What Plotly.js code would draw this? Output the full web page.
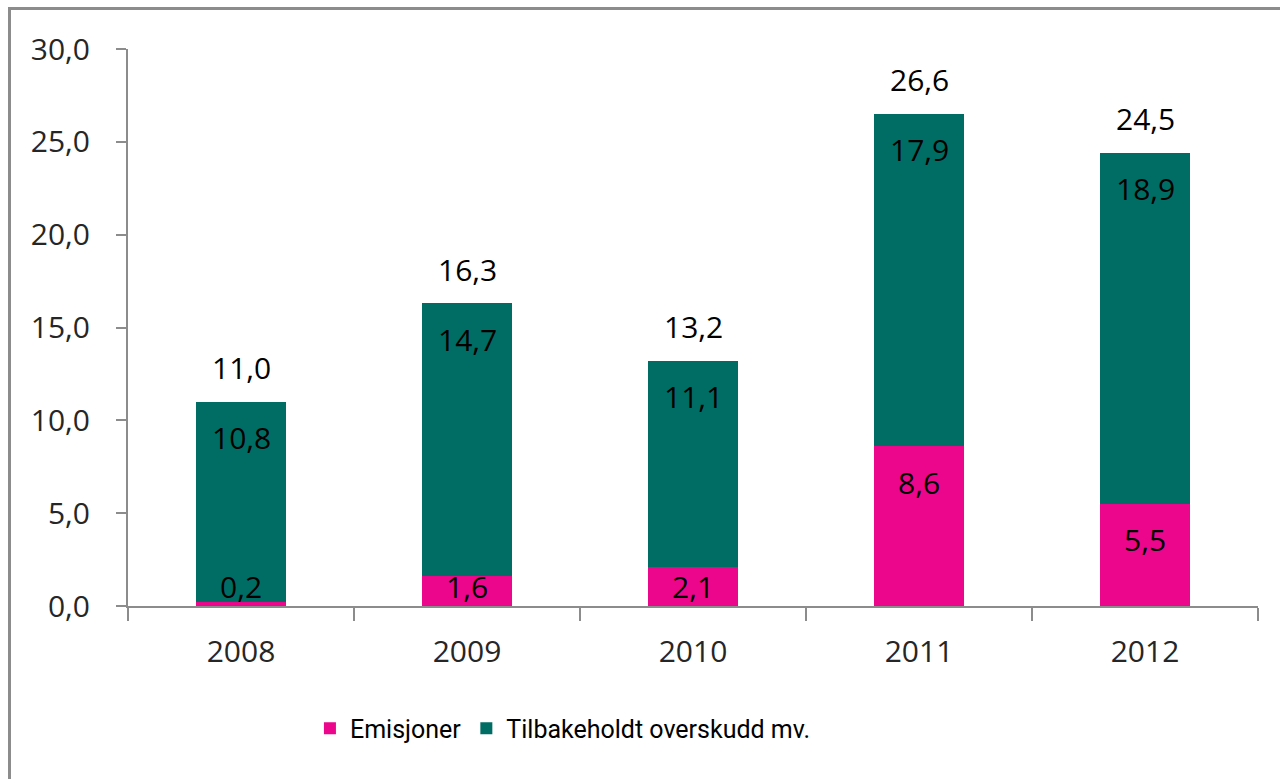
<!DOCTYPE html>
<html>
<head>
<meta charset="utf-8">
<script src="https://cdn.plot.ly/plotly-3.0.1.min.js"></script>
<style>
  html, body { margin: 0; padding: 0; background: #fff; }
  #chart { position: absolute; left: 0; top: 0; width: 1280px; height: 779px; }
  #frame { position: absolute; left: 8px; top: 7px; width: 1400px; height: 900px;
           border-left: 3px solid #8c8c8c; border-top: 3px solid #8c8c8c; pointer-events: none; }
</style>
</head>
<body>
<div id="chart"></div>
<div id="frame"></div>
<script>
const years = ['2008', '2009', '2010', '2011', '2012'];
const emisjoner = [0.2, 1.6, 2.1, 8.6, 5.5];
const tilbakeholdt = [10.8, 14.7, 11.1, 17.9, 18.9];
const totals = [11.0, 16.3, 13.2, 26.6, 24.5];
const seriesNames = ['Emisjoner', 'Tilbakeholdt overskudd mv.'];
const yTicks = [0, 5, 10, 15, 20, 25, 30];

const PINK = '#EC068C';
const TEAL = '#006D64';
const FONT = 'Open Sans, sans-serif';
const NARROW = 'Roboto, Open Sans, sans-serif';
const fmt = v => v.toFixed(1).replace('.', ',');

const W = 1280, H = 779;
const margin = { l: 128, r: 22, t: 49, b: 173 };
const yMax = 30;
const ppu = (H - margin.t - margin.b) / yMax;

const traces = [
  { type: 'bar', name: seriesNames[0], x: years, y: emisjoner, marker: { color: PINK }, hoverinfo: 'skip' },
  { type: 'bar', name: seriesNames[1], x: years, y: tilbakeholdt, marker: { color: TEAL }, hoverinfo: 'skip' }
];

const annotations = [];
years.forEach((yr, i) => {
  const segs = [[0, emisjoner[i]], [emisjoner[i], emisjoner[i] + tilbakeholdt[i]]];
  const vals = [emisjoner[i], tilbakeholdt[i]];
  segs.forEach((s, k) => {
    const hpx = (s[1] - s[0]) * ppu;
    let y, shift;
    if (hpx > 53) { y = s[1]; shift = -36; } else { y = s[0]; shift = 20; }
    annotations.push({ x: i, y: y, xref: 'x', yref: 'y', text: fmt(vals[k]), showarrow: false,
      yanchor: 'middle', yshift: shift, font: { family: FONT, size: 30, color: '#000' } });
  });
  annotations.push({ x: i, y: emisjoner[i] + tilbakeholdt[i], xref: 'x', yref: 'y', text: fmt(totals[i]),
    showarrow: false, yanchor: 'middle', yshift: 34, font: { family: FONT, size: 30, color: '#000' } });
});

const layout = {
  width: W, height: H,
  margin: margin,
  barmode: 'stack',
  bargap: 0.6,
  paper_bgcolor: '#fff', plot_bgcolor: '#fff',
  font: { family: FONT, size: 30, color: '#262626' },
  showlegend: true,
  legend: { orientation: 'h', x: 0.161, xanchor: 'left', y: -0.22, yanchor: 'middle',
            font: { family: NARROW, size: 25, color: '#000' }, itemwidth: 30, traceorder: 'normal' },
  xaxis: { type: 'category', range: [-0.5, years.length - 0.5], autorange: false,
           tickson: 'boundaries', ticks: 'outside', ticklen: 13, tickcolor: '#8c8c8c', tickwidth: 2,
           showline: true, linecolor: '#8c8c8c', linewidth: 2, showgrid: false, zeroline: false,
           ticklabelstandoff: 18, tickfont: { family: FONT, size: 30, color: '#262626' } },
  yaxis: { range: [0, yMax], autorange: false, tickvals: yTicks, ticktext: yTicks.map(fmt), ticks: 'outside', ticklen: 10,
           tickcolor: '#8c8c8c', tickwidth: 2, showline: true, linecolor: '#8c8c8c', linewidth: 2,
           showgrid: false, zeroline: false, ticklabelstandoff: 20,
           tickfont: { family: FONT, size: 30, color: '#262626' } },
  annotations: annotations
};

Plotly.newPlot('chart', traces, layout, { displayModeBar: false, staticPlot: true });
</script>
</body>
</html>
